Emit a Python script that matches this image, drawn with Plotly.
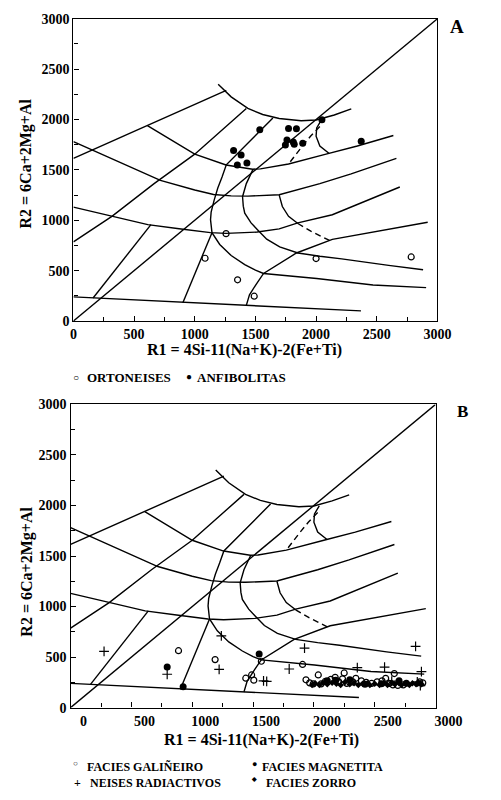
import plotly.graph_objects as go

# ---------------- R1-R2 template boundaries (R1, R2) ----------------
DIAG_X = [0, 3000]
DIAG_Y = [0, 3000]
BASE_X = [0, 2370]
BASE_Y = [240, 100]
U1_X = [0, 610, 1260]
U1_Y = [1615, 1940, 2290]
ARC_X = [1193, 1300, 1438, 1560, 1696, 1877, 2000, 2150, 2290]
ARC_Y = [2350, 2225, 2110, 2050, 2010, 1988, 1995, 2045, 2105]
U2_X = [610, 1000, 1258, 1477, 1541, 1773, 2082, 2340, 2637]
U2_Y = [1940, 1656, 1549, 1507, 1510, 1558, 1656, 1737, 1841]
M1_X = [0, 162, 356, 717, 1000, 1155, 1300, 1438, 1696, 2031, 2289, 2662]
M1_Y = [1780, 1695, 1590, 1396, 1300, 1256, 1242, 1240, 1253, 1364, 1461, 1614]
M2_X = [0, 317, 613, 871, 1129, 1258, 1515, 1696, 1850, 2134, 2690]
M2_Y = [1130, 1039, 957, 916, 877, 870, 883, 915, 974, 1055, 1330]
P1_X = [0, 317, 665, 1000, 1425]
P1_Y = [786, 1039, 1364, 1656, 2110]
P2_X = [162, 639]
P2_Y = [228, 957]
P4_X = [902, 1142]
P4_Y = [182, 877]
OUT_X = [1644, 1450, 1260, 1225, 1190, 1160, 1135, 1130, 1142, 1206, 1300, 1412,
         1500, 1567, 2005, 2469, 2907]
OUT_Y = [2015, 1780, 1550, 1430, 1320, 1200, 1080, 1006, 877, 760, 650, 560,
         505, 472, 422, 357, 331]
CB_X = [1480, 1425, 1394, 1400, 1412, 1464, 1515, 1593, 1700, 1850, 2031, 2211, 2598, 2882]
CB_Y = [1505, 1364, 1234, 1140, 1071, 974, 909, 812, 735, 675, 643, 617, 552, 509]
D_X = [1425, 1451, 1502, 1567, 1838, 2134, 2920]
D_Y = [155, 260, 357, 472, 675, 810, 980]
IN_X = [1696, 1722, 1773, 1850]
IN_Y = [1250, 1136, 1039, 968]
IND_X = [1850, 1960, 2110]
IND_Y = [968, 890, 800]
UD_X = [2031, 1954, 1877, 1773]
UD_Y = [1930, 1834, 1721, 1558]
SC_X = [2044, 2005, 2000, 2031, 2108]
SC_Y = [1997, 1916, 1834, 1737, 1663]

SOLID_LINES = [(DIAG_X, DIAG_Y), (BASE_X, BASE_Y), (U1_X, U1_Y), (ARC_X, ARC_Y),
               (U2_X, U2_Y), (M1_X, M1_Y), (M2_X, M2_Y), (P1_X, P1_Y), (P2_X, P2_Y),
               (P4_X, P4_Y), (OUT_X, OUT_Y), (CB_X, CB_Y), (D_X, D_Y), (IN_X, IN_Y),
               (SC_X, SC_Y)]
DASHED_LINES = [(IND_X, IND_Y), (UD_X, UD_Y)]

# ---------------- Panel A data ----------------
ORTO_X = [1258, 1085, 1353, 1490, 2000, 2784]
ORTO_Y = [867, 623, 409, 246, 620, 636]
ANFI_X = [1320, 1382, 1351, 1430, 1536, 1773, 1838, 1747, 1760, 1812, 1820, 1890, 2372, 2048]
ANFI_Y = [1692, 1649, 1549, 1568, 1899, 1912, 1908, 1748, 1797, 1776, 1755, 1765, 1784, 1997]

# ---------------- Panel B data ----------------
GAL_X = [887, 1188, 1440, 1488, 1506, 1568, 1907, 2036, 2249, 2661,
         1935, 1965, 1995, 2060, 2095, 2140, 2175, 2205, 2235, 2270, 2320, 2345,
         2390, 2430, 2475, 2520, 2560, 2590, 2620, 2650, 2690, 2735, 2870, 2895]
GAL_Y = [563, 475, 291, 323, 272, 459, 427, 323, 343, 337,
         275, 245, 235, 235, 260, 280, 300, 255, 285, 240, 255, 290,
         265, 250, 240, 255, 265, 290, 240, 225, 220, 225, 255, 245]
MAG_X = [794, 925, 1550, 2110, 2180, 2295, 2420, 2555, 2700, 2760]
MAG_Y = [401, 207, 531, 265, 270, 275, 230, 235, 265, 240]
NEI_X = [275, 794, 1239, 1221, 1586, 1612, 1797, 1923, 2357, 2581, 2836, 2884,
         2875, 2640, 2850]
NEI_Y = [556, 330, 709, 379, 265, 259, 382, 589, 395, 401, 605, 356,
         218, 262, 255]
ZOR_X = [1985, 2010, 2045, 2075, 2110, 2150, 2185, 2220, 2255, 2295, 2330, 2365,
         2400, 2440, 2460, 2500, 2540, 2575, 2605, 2640, 2665, 2700, 2720, 2755,
         2785, 2810, 2840, 2860, 2885]
ZOR_Y = [225, 240, 225, 245, 230, 245, 235, 225, 250, 230, 240, 225,
         235, 240, 225, 235, 225, 240, 225, 245, 230, 240, 225, 235,
         225, 240, 230, 250, 230]

TICK_VALS = [0, 500, 1000, 1500, 2000, 2500, 3000]
TICK_TEXT = ["0", "500", "1000", "1500", "2000", "2500", "3000"]

W, H = 501, 800
SERIF = "Liberation Serif, Times New Roman, serif"

fig = go.Figure()


def add_template(xa, ya):
    for xs, ys in SOLID_LINES:
        fig.add_trace(go.Scatter(x=xs, y=ys, mode="lines", xaxis=xa, yaxis=ya,
                                 line=dict(color="black", width=1.4),
                                 showlegend=False, hoverinfo="skip"))
    for xs, ys in DASHED_LINES:
        fig.add_trace(go.Scatter(x=xs, y=ys, mode="lines", xaxis=xa, yaxis=ya,
                                 line=dict(color="black", width=1.4, dash="6px,4px"),
                                 showlegend=False, hoverinfo="skip"))


add_template("x", "y")
add_template("x2", "y2")

# panel A points
fig.add_trace(go.Scatter(x=ORTO_X, y=ORTO_Y, mode="markers", xaxis="x", yaxis="y",
                         name="ORTONEISES", showlegend=False,
                         marker=dict(symbol="circle-open", size=6, color="black",
                                     line=dict(width=1.2, color="black"))))
fig.add_trace(go.Scatter(x=ANFI_X, y=ANFI_Y, mode="markers", xaxis="x", yaxis="y",
                         name="ANFIBOLITAS", showlegend=False,
                         marker=dict(symbol="circle", size=7, color="black")))

# panel B points
fig.add_trace(go.Scatter(x=ZOR_X, y=ZOR_Y, mode="markers", xaxis="x2", yaxis="y2",
                         name="FACIES ZORRO", showlegend=False,
                         marker=dict(symbol="diamond", size=5, color="black")))
fig.add_trace(go.Scatter(x=GAL_X, y=GAL_Y, mode="markers", xaxis="x2", yaxis="y2",
                         name="FACIES GALIÑEIRO", showlegend=False,
                         marker=dict(symbol="circle-open", size=6, color="black",
                                     line=dict(width=1.2, color="black"))))
fig.add_trace(go.Scatter(x=MAG_X, y=MAG_Y, mode="markers", xaxis="x2", yaxis="y2",
                         name="FACIES MAGNETITA", showlegend=False,
                         marker=dict(symbol="circle", size=7, color="black")))
fig.add_trace(go.Scatter(x=NEI_X, y=NEI_Y, mode="markers", xaxis="x2", yaxis="y2",
                         name="NEISES RADIACTIVOS", showlegend=False,
                         marker=dict(symbol="cross-thin", size=7, color="black",
                                     line=dict(width=1.2, color="black"))))

axis_common = dict(range=[0, 3000], tickvals=TICK_VALS,
                   ticktext=["<b>" + t + "</b>" for t in TICK_TEXT],
                   ticks="inside", ticklen=5, tickwidth=1.2, tickcolor="black",
                   minor=dict(dtick=250, tick0=0, ticks="inside", ticklen=4,
                              tickwidth=1.2, tickcolor="black"),
                   showgrid=False, zeroline=False, showline=True, linecolor="black",
                   linewidth=1.4, mirror=True,
                   tickfont=dict(family=SERIF, size=14, color="black"))

fig.update_layout(
    width=W, height=H, autosize=False,
    margin=dict(l=0, r=0, t=0, b=0),
    paper_bgcolor="white", plot_bgcolor="white",
    xaxis=dict(domain=[74 / W, 462 / W], anchor="y", **axis_common),
    yaxis=dict(domain=[1 - 320 / H, 1 - 12 / H], anchor="x", **axis_common),
    xaxis2=dict(domain=[71 / W, 460 / W], anchor="y2", ticklabelshift=13, **axis_common),
    yaxis2=dict(domain=[1 - 714 / H, 1 - 405 / H], anchor="x2", **axis_common),
)


def ann(text, px, py, size, bold=False, xanchor="center", angle=0):
    fig.add_annotation(text=("<b>" + text + "</b>") if bold else text,
                       x=px / W, y=1 - py / H, xref="paper", yref="paper",
                       showarrow=False, xanchor=xanchor, yanchor="middle",
                       textangle=angle,
                       font=dict(family=SERIF, size=size, color="black"))


# axis titles
ann("R1 = 4Si-11(Na+K)-2(Fe+Ti)", 256, 350, 16, bold=True)
ann("R2 = 6Ca+2Mg+Al", 23, 160, 16, bold=True, angle=-90)
ann("R1 = 4Si-11(Na+K)-2(Fe+Ti)", 274, 747, 16, bold=True)
ann("R2 = 6Ca+2Mg+Al", 25, 575, 16, bold=True, angle=-90)

# panel letters
ann("A", 483, 20, 19, bold=True)
ann("B", 489, 412, 17, bold=True)

# legend A
ann("○", 77, 378, 10, bold=True)
ann("ORTONEISES", 86, 378, 13, bold=True, xanchor="left")
ann("●", 197, 377, 10, bold=True)
ann("ANFIBOLITAS", 204, 378, 13, bold=True, xanchor="left")

# legend B
ann("○", 76, 771, 8, bold=True)
ann("FACIES GALIÑEIRO", 86, 775, 12, bold=True, xanchor="left")
ann("●", 267, 771, 9, bold=True)
ann("FACIES MAGNETITA", 273, 775, 12, bold=True, xanchor="left")
ann("+", 78, 791, 12, bold=True)
ann("NEISES RADIACTIVOS", 90, 791, 12, bold=True, xanchor="left")
ann("◆", 267, 787, 6, bold=True)
ann("FACIES ZORRO", 277, 791, 12, bold=True, xanchor="left")

fig.write_html("out.html")
